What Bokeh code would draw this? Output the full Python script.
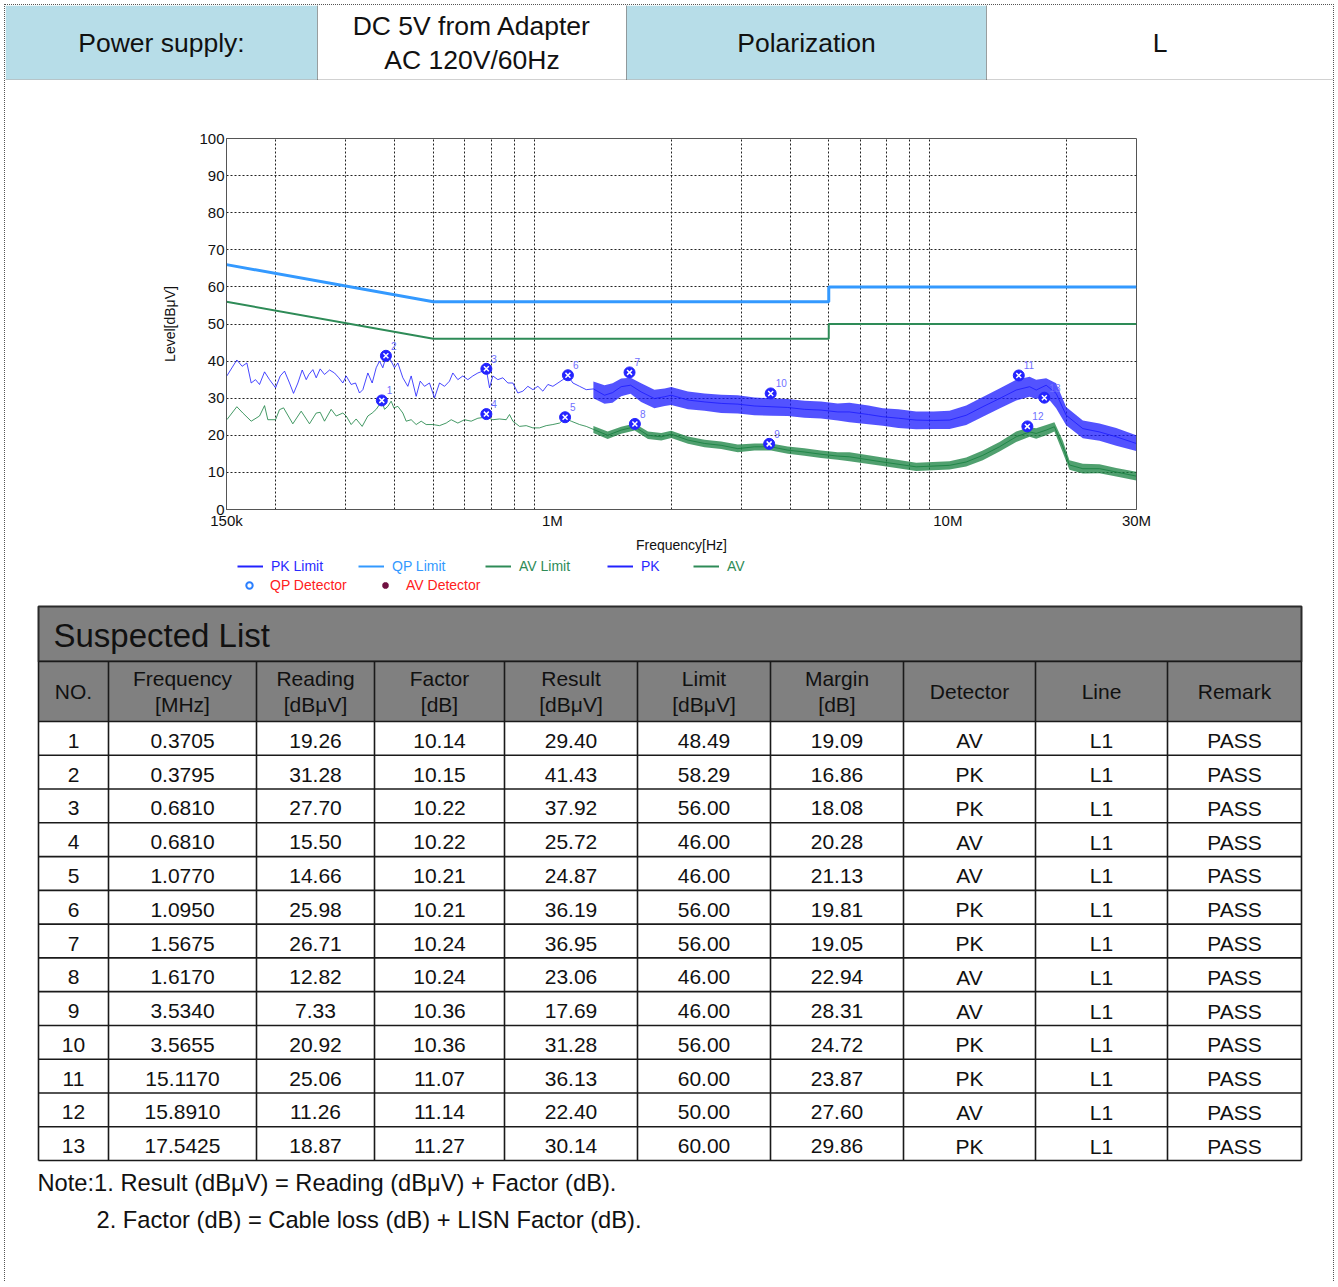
from bokeh.plotting import figure
from bokeh.models import Range1d, FixedTicker, Legend, LegendItem
from bokeh.layouts import column
from bokeh.embed import file_html
from bokeh.resources import INLINE
from bokeh.core.properties import value

# ---------------- data ----------------
header_texts = ["Power supply:", "DC 5V from Adapter\nAC 120V/60Hz", "Polarization", "L"]

limit_freq = [0.15, 0.5, 5.0, 5.0, 30.0]          # MHz
qp_limit = [66, 56, 56, 60, 60]                   # dBuV
av_limit = [56, 46, 46, 50, 50]

# PK trace, sparse part (MHz, dBuV)
pk_freq_1 = [0.1503, 0.1593, 0.1643, 0.1689, 0.1732, 0.1776, 0.1818, 0.1872, 0.1927, 0.1996,
             0.2051, 0.2103, 0.2165, 0.2216, 0.2273, 0.2331, 0.2386, 0.2423, 0.2480, 0.2529,
             0.2588, 0.2654, 0.2733, 0.2813, 0.2885, 0.2953, 0.3011, 0.3100, 0.3179, 0.3254,
             0.3318, 0.3416, 0.3503, 0.3586, 0.3656, 0.3727, 0.3801, 0.3890, 0.3989, 0.4068,
             0.4188, 0.4311, 0.4396, 0.4526, 0.4633, 0.4751, 0.4891, 0.5036, 0.5185, 0.5338,
             0.5495, 0.5603, 0.5769, 0.5939, 0.6114, 0.6295, 0.6482, 0.6673, 0.6804, 0.6938,
             0.7073, 0.7282, 0.7497, 0.7719, 0.7947, 0.8182, 0.8424, 0.8673, 0.8930, 0.9194,
             0.9464, 0.9744, 1.0031, 1.0330, 1.0634, 1.0949, 1.1272, 1.1717, 1.2181, 1.27]
pk_level_1 = [36.0, 40.3, 38.6, 39.5, 34.1, 35.0, 33.7, 37.1, 35.0, 32.8,
              36.0, 37.3, 34.1, 31.3, 34.1, 37.6, 35.0, 36.4, 37.7, 35.5,
              37.9, 36.4, 37.6, 36.8, 35.5, 34.1, 36.0, 33.7, 34.1, 31.4,
              32.3, 36.8, 34.1, 38.2, 40.0, 38.2, 41.4, 40.5, 38.2, 39.5,
              35.5, 33.2, 36.0, 30.5, 34.6, 33.2, 34.1, 30.1, 34.1, 33.2,
              34.6, 36.8, 35.0, 36.0, 35.0, 36.0, 36.8, 37.3, 37.9, 32.8,
              36.0, 35.0, 35.5, 34.1, 34.1, 31.4, 31.9, 33.2, 32.3, 33.2,
              31.9, 33.7, 33.2, 34.1, 35.0, 36.0, 34.1, 33.2, 32.3, 32.5]
# PK trace, dense part: centre and envelope
pk_freq_2 = [1.27, 1.355, 1.42, 1.493, 1.577, 1.677, 1.812, 1.923, 1.998, 2.203,
             2.426, 2.673, 2.944, 3.244, 3.574, 3.938, 4.338, 4.779, 5.265, 5.64,
             6.3, 6.85, 7.5, 8.32, 9.2, 10.1, 11.13, 12.26, 13.51, 14.89,
             16.10, 16.73, 17.73, 18.79, 19.92, 21.95, 24.19, 26.66, 29.96]
pk_mid_2 = [32.5, 30.8, 31.5, 33.1, 33.5, 31.7, 29.9, 30.4, 30.8, 29.5,
            29.0, 28.6, 28.4, 27.9, 27.7, 27.5, 27.0, 26.8, 26.3, 26.3,
            25.6, 25.0, 24.6, 24.1, 24.0, 24.1, 25.4, 27.7, 29.9, 32.2,
            33.1, 32.2, 33.5, 31.3, 25.4, 21.8, 20.9, 19.6, 17.8]
pk_hi_2 = [34.5, 33.5, 34.0, 35.3, 35.5, 34.0, 32.3, 32.6, 33.0, 31.8,
           31.3, 30.9, 30.8, 30.2, 30.0, 29.8, 29.3, 29.1, 28.6, 28.8,
           28.0, 27.3, 27.0, 26.4, 26.4, 26.6, 28.0, 30.3, 32.6, 35.0,
           35.8, 35.0, 35.4, 34.0, 27.6, 24.0, 23.2, 22.0, 20.0]
pk_lo_2 = [30.0, 28.5, 28.8, 30.5, 31.2, 29.0, 27.3, 27.9, 28.2, 27.0,
           26.6, 26.0, 25.9, 25.4, 25.3, 25.2, 24.7, 24.5, 24.0, 23.5,
           23.0, 22.6, 22.0, 21.6, 21.7, 21.7, 22.8, 25.0, 27.2, 29.4,
           30.4, 29.8, 30.6, 27.3, 22.7, 19.2, 18.5, 17.2, 15.8]

# AV trace, sparse part
av_freq_1 = [0.1503, 0.1593, 0.1650, 0.1732, 0.1818, 0.1872, 0.1908, 0.1996, 0.2042, 0.2091,
             0.2207, 0.2317, 0.2432, 0.2529, 0.2588, 0.2654, 0.2759, 0.2841, 0.2953, 0.3011,
             0.3100, 0.3191, 0.3305, 0.3416, 0.3503, 0.3586, 0.3656, 0.3706, 0.3765, 0.3838,
             0.3913, 0.3974, 0.4068, 0.4188, 0.4270, 0.4396, 0.4526, 0.4660, 0.4797, 0.4987,
             0.5185, 0.5390, 0.5549, 0.5769, 0.5997, 0.6234, 0.6482, 0.6804, 0.7073, 0.7350,
             0.7644, 0.7794, 0.7947, 0.8261, 0.8590, 0.8930, 0.9282, 0.9649, 1.0031, 1.0430,
             1.0737, 1.1163, 1.1717, 1.2181]
av_level_1 = [24.2, 27.7, 26.0, 23.8, 25.2, 28.0, 24.2, 24.2, 26.9, 27.4,
              23.1, 26.5, 23.1, 26.0, 26.2, 23.8, 27.0, 25.2, 26.0, 25.2,
              22.9, 24.4, 22.4, 25.2, 26.0, 27.0, 28.3, 29.2, 27.0, 27.8,
              29.2, 27.4, 27.8, 26.0, 23.8, 24.2, 22.9, 23.8, 22.9, 22.9,
              22.6, 23.3, 24.2, 23.3, 24.2, 23.8, 24.6, 24.9, 24.2, 24.4,
              24.2, 25.6, 23.8, 22.4, 22.6, 22.0, 22.0, 22.6, 22.9, 23.3,
              24.6, 23.8, 22.9, 22.4]
av_freq_2 = [1.27, 1.38, 1.493, 1.615, 1.745, 1.886, 1.998, 2.203, 2.426, 2.673,
             2.944, 3.244, 3.574, 3.938, 4.338, 4.779, 5.265, 5.64, 6.85, 8.32,
             10.1, 11.13, 12.26, 13.51, 14.89, 16.10, 16.73, 17.73, 18.6, 19.54,
             20.3, 21.95, 24.19, 26.66, 29.96]
av_mid_2 = [21.6, 20.0, 21.4, 22.3, 20.0, 19.6, 20.3, 18.7, 17.8, 17.3,
            16.4, 16.9, 16.9, 16.0, 15.5, 14.9, 14.4, 14.2, 12.8, 11.5,
            11.9, 12.8, 14.6, 16.9, 19.6, 20.9, 20.5, 21.4, 22.3, 16.9,
            12.0, 11.0, 11.0, 10.1, 9.0]
av_hi_2 = [22.5, 21.0, 22.3, 23.2, 21.0, 20.6, 21.2, 19.7, 18.8, 18.3,
           17.5, 17.8, 17.8, 17.0, 16.5, 15.9, 15.4, 15.4, 14.0, 12.6,
           13.0, 14.0, 15.9, 18.2, 21.0, 22.2, 21.9, 22.8, 23.5, 18.5,
           13.3, 12.3, 12.2, 11.2, 10.2]
av_lo_2 = [20.6, 19.0, 20.4, 21.3, 19.0, 18.6, 19.3, 17.7, 16.8, 16.3,
           15.4, 15.9, 15.9, 15.0, 14.5, 13.9, 13.4, 13.0, 11.7, 10.4,
           10.8, 11.6, 13.3, 15.6, 18.2, 19.6, 19.1, 20.0, 21.0, 15.3,
           10.7, 9.7, 9.8, 8.9, 7.8]

# Suspected list
no = [1, 2, 3, 4, 5, 6, 7, 8, 9, 10, 11, 12, 13]
freq_mhz = [0.3705, 0.3795, 0.6810, 0.6810, 1.0770, 1.0950, 1.5675, 1.6170, 3.5340, 3.5655,
            15.1170, 15.8910, 17.5425]
reading = [19.26, 31.28, 27.70, 15.50, 14.66, 25.98, 26.71, 12.82, 7.33, 20.92, 25.06, 11.26, 18.87]
factor = [10.14, 10.15, 10.22, 10.22, 10.21, 10.21, 10.24, 10.24, 10.36, 10.36, 11.07, 11.14, 11.27]
result = [29.40, 41.43, 37.92, 25.72, 24.87, 36.19, 36.95, 23.06, 17.69, 31.28, 36.13, 22.40, 30.14]
limit = [48.49, 58.29, 56.00, 46.00, 46.00, 56.00, 56.00, 46.00, 46.00, 56.00, 60.00, 50.00, 60.00]
margin = [19.09, 16.86, 18.08, 20.28, 21.13, 19.81, 19.05, 22.94, 28.31, 24.72, 23.87, 27.60, 29.86]
detector = ["AV", "PK", "PK", "AV", "AV", "PK", "PK", "AV", "AV", "PK", "PK", "AV", "PK"]
line_name = ["L1"] * 13
remark = ["PASS"] * 13
table_headers = ["NO.", "Frequency\n[MHz]", "Reading\n[dBμV]", "Factor\n[dB]", "Result\n[dBμV]",
                 "Limit\n[dBμV]", "Margin\n[dB]", "Detector", "Line", "Remark"]
notes = ["Note:1. Result (dBμV) = Reading (dBμV) + Factor (dB).",
         "2. Factor (dB) = Cable loss (dB) + LISN Factor (dB)."]
legend_labels = ["PK Limit", "QP Limit", "AV Limit", "PK", "AV", "QP Detector", "AV Detector"]

x_tick_values = [0.15, 1, 10, 30]
x_tick_labels = ["150k", "1M", "10M", "30M"]
x_grid_values = [0.2, 0.3, 0.4, 0.5, 0.6, 0.7, 0.8, 0.9, 2, 3, 4, 5, 6, 7, 8, 9, 20]
y_tick_values = [0, 10, 20, 30, 40, 50, 60, 70, 80, 90, 100]

# ---------------- styling ----------------
FONT = "Liberation Sans"
W = 1328
LIGHT_BLUE = "#b7dde8"
PK_COLOR = "#1a1aff"
AV_COLOR = "#15803f"
QP_LIM_COLOR = "#3399ff"
AV_LIM_COLOR = "#2e8b57"


def blank(width, height):
    p = figure(width=width, height=height, x_range=Range1d(0, width), y_range=Range1d(height, 0),
               output_backend="svg", toolbar_location=None, x_axis_location=None,
               y_axis_location=None, min_border=0)
    p.min_border_left = p.min_border_right = p.min_border_top = p.min_border_bottom = 0
    p.frame_align = False
    p.grid.visible = False
    p.outline_line_color = None
    p.background_fill_color = "white"
    p.border_fill_color = "white"
    return p


# ---------------- header ----------------
HEAD_H = 75
head = blank(W, HEAD_H)
head_edges = [0, 312, 621, 981, W]
head_fill = [LIGHT_BLUE, "white", LIGHT_BLUE, "white"]
head.quad(left=head_edges[:-1], right=head_edges[1:], top=0, bottom=74,
          fill_color=head_fill, line_color=None)
head.segment(x0=head_edges[1:-1], y0=0, x1=head_edges[1:-1], y1=HEAD_H,
             line_color="#444444", line_dash="1 1", line_width=1)
head.segment(x0=[0], y0=[74.5], x1=[W], y1=[74.5], line_color="#444444", line_dash="1 1", line_width=1)
head_cx = [(a + b) / 2 for a, b in zip(head_edges[:-1], head_edges[1:])]
head.text(x=head_cx, y=[37.5] * 4, text=header_texts, text_align="center", text_baseline="middle",
          text_font=value(FONT), text_font_size="26.5px", text_color="#111111", text_line_height=1.15)

# ---------------- chart ----------------
chart = figure(frame_width=910, frame_height=371, x_axis_type="log", x_range=Range1d(0.15, 30),
               y_range=Range1d(0, 100), output_backend="svg", toolbar_location=None,
               x_axis_label="Frequency[Hz]", y_axis_label="Level[dBμV]")
chart.frame_align = False
chart.min_border_left = 221
chart.min_border_right = 197
chart.min_border_top = 58
chart.min_border_bottom = 46
chart.outline_line_color = "#555555"
chart.background_fill_color = "white"
chart.border_fill_color = "white"

chart.xaxis.ticker = FixedTicker(ticks=x_tick_values, minor_ticks=[])
chart.xaxis.major_label_overrides = dict(zip(x_tick_values, x_tick_labels))
chart.yaxis.ticker = FixedTicker(ticks=y_tick_values, minor_ticks=[])
for ax in (chart.xaxis[0], chart.yaxis[0]):
    ax.major_tick_line_color = None
    ax.minor_tick_line_color = None
    ax.major_tick_out = 0
    ax.major_tick_in = 0
    ax.minor_tick_out = 0
    ax.minor_tick_in = 0
    ax.axis_line_color = "#555555"
    ax.major_label_standoff = 2
    ax.major_label_text_font = FONT
    ax.major_label_text_font_size = "15px"
    ax.major_label_text_color = "#111111"
    ax.axis_label_text_font = FONT
    ax.axis_label_text_font_size = "14px"
    ax.axis_label_text_font_style = "normal"
    ax.axis_label_text_color = "#111111"
chart.xaxis.axis_label_standoff = 5
chart.yaxis.axis_label_standoff = 18

chart.xgrid.ticker = FixedTicker(ticks=x_grid_values)
chart.ygrid.ticker = FixedTicker(ticks=y_tick_values)
chart.grid.grid_line_color = "#222222"
chart.grid.grid_line_dash = "2 2"
chart.grid.grid_line_width = 1

chart.line(limit_freq, qp_limit, line_color=QP_LIM_COLOR, line_width=3)
chart.line(limit_freq, av_limit, line_color=AV_LIM_COLOR, line_width=2)

chart.varea(x=av_freq_2, y1=av_lo_2, y2=av_hi_2, fill_color=AV_COLOR, fill_alpha=0.75)
chart.line(av_freq_1 + av_freq_2, av_level_1 + av_mid_2, line_color=AV_COLOR, line_width=1,
           line_alpha=0.8)
chart.varea(x=pk_freq_2, y1=pk_lo_2, y2=pk_hi_2, fill_color=PK_COLOR, fill_alpha=0.75)
chart.line(pk_freq_1 + pk_freq_2, pk_level_1 + pk_mid_2, line_color=PK_COLOR, line_width=1,
           line_alpha=0.8)

chart.scatter(freq_mhz, result, marker="circle", size=11, fill_color="#2424ff", line_color="#2424ff")
chart.scatter(freq_mhz, result, marker="x", size=7, line_color="white", line_width=1.5)
chart.text(freq_mhz, result, text=[str(n) for n in no], x_offset=5, y_offset=-6,
           text_font=value(FONT), text_font_size="10px", text_color="#7070ff",
           text_baseline="bottom", text_align="left")

# ---------------- legend strip ----------------
LEG_H = 48
leg = blank(W, LEG_H)
# swatch renderers: anchored outside the visible range so only the legend shows them
hx, hy = [-200, -190], [-200, -200]
leg_renderers = [
    leg.line(x=hx, y=hy, line_color="#2222ff", line_width=2),
    leg.line(x=hx, y=hy, line_color=QP_LIM_COLOR, line_width=2),
    leg.line(x=hx, y=hy, line_color=AV_LIM_COLOR, line_width=2),
    leg.line(x=hx, y=hy, line_color="#2222ff", line_width=2),
    leg.line(x=hx, y=hy, line_color=AV_LIM_COLOR, line_width=2),
    leg.scatter(x=hx[:1], y=hy[:1], marker="circle", size=6, fill_color=None,
                line_color="#2a7fff", line_width=2),
    leg.scatter(x=hx[:1], y=hy[:1], marker="asterisk", size=12, line_color="#701040", line_width=2.5),
]
leg_text_colors = ["#2a2aff", QP_LIM_COLOR, AV_LIM_COLOR, "#2a2aff", AV_LIM_COLOR, "#ff2020", "#ff2020"]
leg_pos = [(232, 29), (353, 29), (480, 29), (602, 29), (688, 29), (231, 10), (367, 10)]
for label, rend, col, pos in zip(legend_labels, leg_renderers, leg_text_colors, leg_pos):
    lg = Legend(items=[LegendItem(label=label, renderers=[rend])], location=pos)
    lg.label_text_font = FONT
    lg.label_text_font_size = "14px"
    lg.label_text_color = col
    lg.glyph_width = 26
    lg.glyph_height = 16
    lg.label_height = 16
    lg.label_standoff = 8
    lg.padding = 0
    lg.margin = 0
    lg.spacing = 0
    lg.border_line_color = None
    lg.background_fill_alpha = 0
    leg.add_layout(lg)

# ---------------- table ----------------
TAB_H = 678
tab = blank(W, TAB_H)
col_edges = [33, 103, 251, 369, 499, 632, 765, 898, 1030, 1162, 1296]
ROW_H = 33.77
HDR_TOP, HDR_BOT = 58, 118
row_edges = [HDR_BOT + i * ROW_H for i in range(len(no) + 1)]
TAB_BOTTOM = row_edges[-1]

tab.quad(left=[col_edges[0]], right=[col_edges[-1]], top=[3], bottom=[HDR_TOP],
         fill_color="#808080", line_color="#2b2b2b", line_width=2)
tab.quad(left=[col_edges[0]], right=[col_edges[-1]], top=[HDR_TOP], bottom=[HDR_BOT],
         fill_color="#808080", line_color=None)
tab.segment(x0=col_edges, y0=HDR_TOP, x1=col_edges, y1=TAB_BOTTOM, line_color="#1a1a1a", line_width=1.6)
tab.segment(x0=col_edges[0], y0=[HDR_TOP] + row_edges, x1=col_edges[-1], y1=[HDR_TOP] + row_edges,
            line_color="#1a1a1a", line_width=1.6)
tab.text(x=[48], y=[32], text=["Suspected List"], text_font=value(FONT), text_font_size="33px",
         text_color="#111111", text_baseline="middle", text_align="left")

col_cx = [(a + b) / 2 for a, b in zip(col_edges[:-1], col_edges[1:])]
tab.text(x=col_cx, y=[(HDR_TOP + HDR_BOT) / 2] * len(col_cx), text=table_headers,
         text_font=value(FONT), text_font_size="21px", text_color="#111111",
         text_align="center", text_baseline="middle", text_line_height=1.15)

columns = [
    [str(n) for n in no],
    ["%.4f" % v for v in freq_mhz],
    ["%.2f" % v for v in reading],
    ["%.2f" % v for v in factor],
    ["%.2f" % v for v in result],
    ["%.2f" % v for v in limit],
    ["%.2f" % v for v in margin],
    detector,
    line_name,
    remark,
]
row_cy = [HDR_BOT + (i + 0.5) * ROW_H + 2.5 for i in range(len(no))]
for cx, col_text in zip(col_cx, columns):
    tab.text(x=[cx] * len(col_text), y=row_cy, text=col_text, text_font=value(FONT),
             text_font_size="21px", text_color="#111111", text_align="center", text_baseline="middle")

tab.text(x=[32, 91], y=[579, 616], text=notes, text_font=value(FONT), text_font_size="23.7px",
         text_color="#111111", text_align="left", text_baseline="middle")

layout = column(head, chart, leg, tab, spacing=0,
                styles={"border-left": "1px dotted #555555", "border-right": "1px dotted #555555",
                        "border-top": "1px dotted #555555", "margin-left": "4px", "margin-top": "4px"})

open("out.html", "w").write(file_html(layout, INLINE))
